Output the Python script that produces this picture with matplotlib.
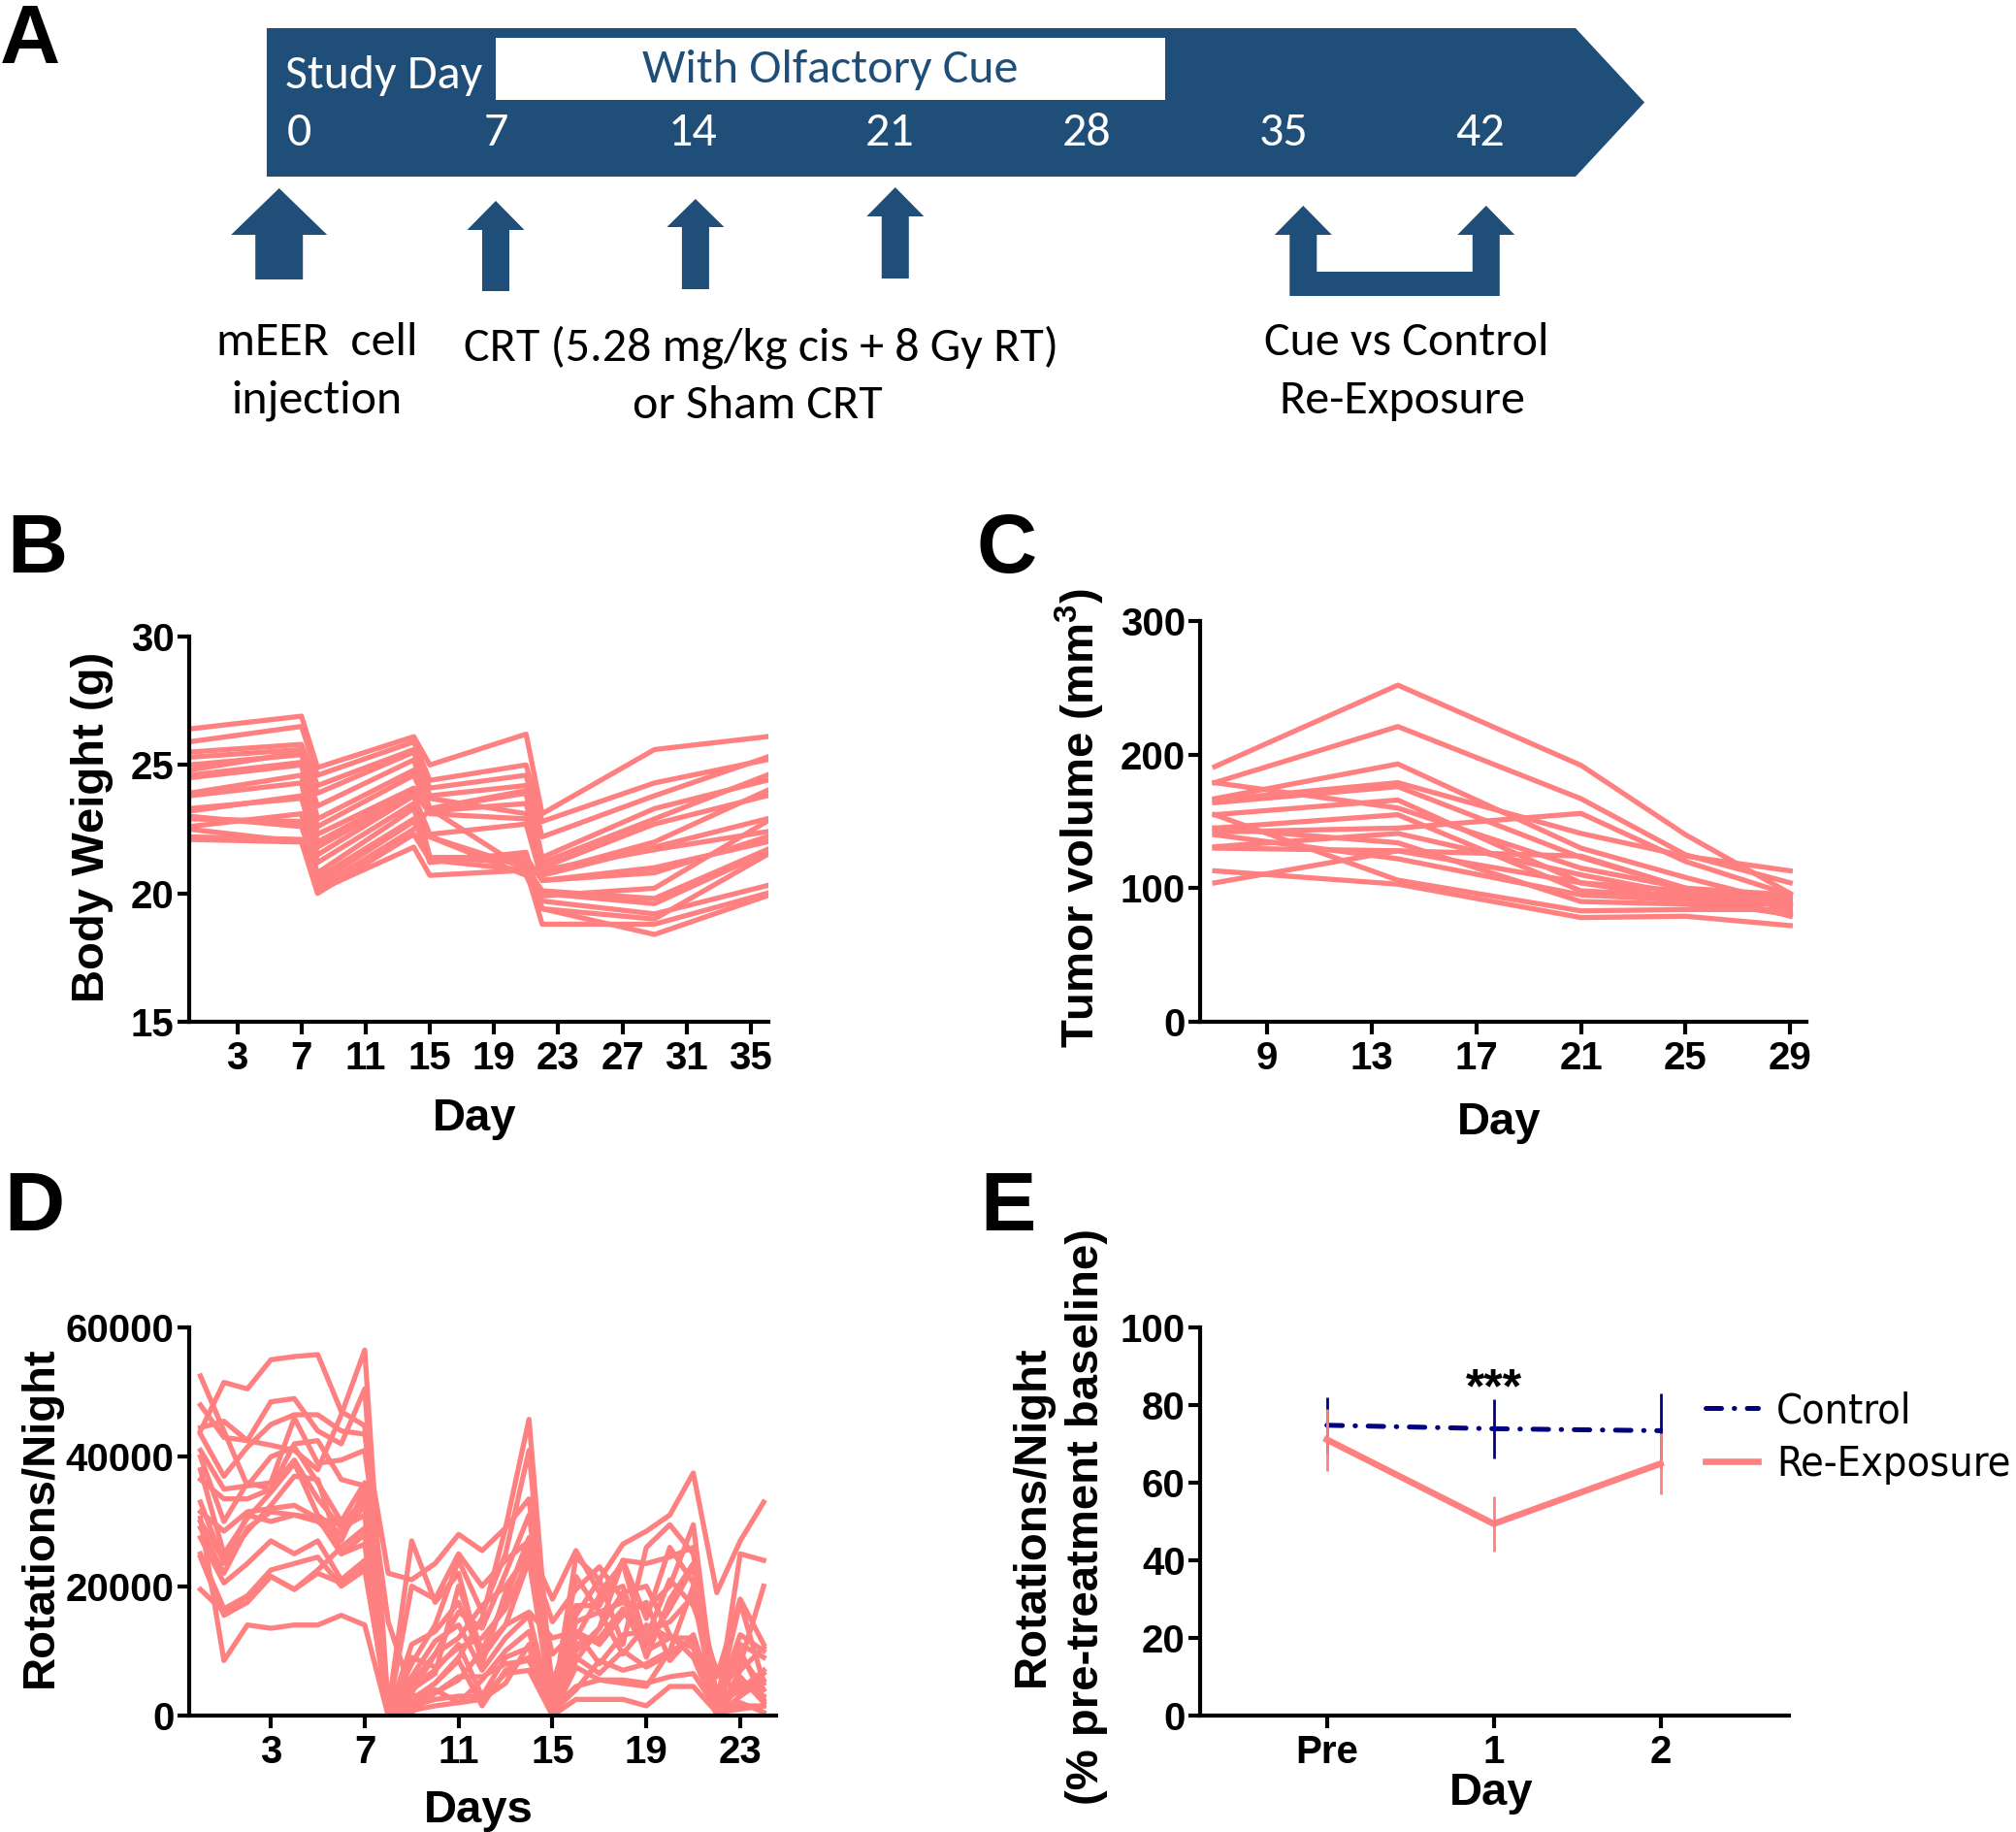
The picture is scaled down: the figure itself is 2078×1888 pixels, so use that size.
"""
Olfactory cue study figure: timeline (A), body weight (B), tumour volume (C),
wheel rotations (D) and re-exposure response (E).
"""

import matplotlib
matplotlib.use("Agg")
import matplotlib.pyplot as plt
from matplotlib import font_manager
from matplotlib.font_manager import FontProperties
from matplotlib.patches import Polygon, Rectangle

# ── Data ───────────────────────────────────────────────────────────────────────
# A: study timeline
study_days = [0, 7, 14, 21, 28, 35, 42]
cue_window = (7.0, 30.8)
injection_day = -0.7
crt_days = [7.0, 14.1, 21.2]
reexposure_days = [35.7, 42.2]

# B: body weight (g), one row per mouse
bw_days = [0, 7, 8, 14, 15, 21, 22, 29, 36]
body_weight = [
    [26.4, 26.9, 24.9, 26.1, 25.0, 26.2, 23.1, 25.6, 26.1],
    [25.9, 26.5, 24.6, 25.9, 24.4, 25.0, 22.8, 24.3, 25.2],
    [25.5, 25.8, 24.2, 25.6, 24.1, 24.6, 22.2, 23.8, 25.3],
    [25.3, 25.6, 23.9, 25.5, 23.8, 24.2, 21.4, 23.3, 24.4],
    [25.0, 25.4, 23.4, 25.2, 23.3, 24.0, 21.2, 22.9, 24.6],
    [24.8, 25.5, 22.9, 24.8, 23.3, 23.9, 20.8, 22.0, 24.0],
    [24.6, 25.1, 22.6, 24.6, 23.2, 23.5, 21.0, 22.7, 23.8],
    [24.5, 25.0, 22.3, 24.1, 23.7, 23.1, 20.7, 21.8, 22.9],
    [23.9, 24.6, 22.0, 24.0, 23.1, 22.9, 20.9, 21.7, 22.4],
    [23.8, 24.3, 21.5, 23.8, 22.3, 22.7, 20.5, 21.0, 22.0],
    [23.3, 23.7, 21.8, 23.9, 21.4, 21.4, 20.5, 20.8, 22.2],
    [23.2, 23.8, 21.2, 23.5, 22.2, 21.0, 20.1, 19.8, 21.7],
    [23.0, 22.6, 20.8, 23.3, 21.4, 21.2, 19.9, 20.2, 22.8],
    [22.9, 22.8, 20.6, 22.9, 21.2, 21.6, 19.4, 19.0, 21.5],
    [22.6, 23.1, 20.2, 22.5, 23.3, 20.9, 20.0, 19.6, 21.6],
    [22.5, 22.0, 20.0, 22.3, 21.3, 20.9, 19.7, 19.2, 20.3],
    [22.2, 22.1, 20.1, 21.8, 20.7, 20.9, 18.8, 18.8, 20.0],
    [22.1, 22.0, 20.4, 22.8, 22.2, 20.7, 19.4, 18.4, 19.9],
]

# C: tumour volume (mm3), one row per mouse
tv_days = [7, 14, 21, 25, 29]
tumor_volume = [
    [191, 252, 192, 140, 96],
    [179, 221, 167, 125, 104],
    [167, 193, 130, 108, 88],
    [166, 179, 141, 124, 113],
    [179, 160, 115, 100, 95],
    [164, 176, 123, 100, 86],
    [155, 166, 104, 98, 92],
    [145, 155, 98, 94, 90],
    [142, 145, 156, 120, 95],
    [131, 141, 110, 95, 86],
    [145, 134, 90, 88, 82],
    [130, 128, 104, 92, 80],
    [113, 103, 78, 79, 72],
    [104, 128, 124, 100, 79],
    [155, 106, 83, 84, 84],
    [140, 122, 95, 91, 88],
]

# D: wheel rotations per night, one row per mouse
rot_days = list(range(25))
rotations = [
    [44000, 51500, 50500, 55000, 55500, 55800, 47000, 44800, 400, 20000, 18000, 25000, 20000,
     24000, 27000, 1500, 24500, 21000, 26500, 28500, 31000, 37500, 19000, 27000, 33000],
    [52500, 44000, 35500, 40000, 41500, 36000, 30000, 36000, 0, 2000, 5000, 9000, 15000,
     29000, 45800, 2000, 10000, 13500, 24000, 23500, 24500, 26000, 1000, 25000, 24000],
    [48000, 43000, 42500, 48500, 49000, 44000, 42000, 50500, 500, 8000, 14000, 24000, 16000,
     25000, 41000, 1000, 14500, 16000, 17500, 16500, 20000, 29500, 500, 6000, 2000],
    [44500, 45500, 42500, 41800, 41000, 38000, 46500, 56500, 1000, 27000, 17500, 22000, 8000,
     19000, 26000, 18000, 25500, 19000, 23500, 11000, 16500, 23000, 2000, 12500, 10000],
    [43500, 37000, 41500, 45000, 46500, 46500, 44000, 43500, 22000, 21000, 23500, 28000, 25500,
     29000, 33500, 3000, 17000, 17000, 24000, 15000, 26000, 20500, 6000, 18000, 11000],
    [41000, 35000, 35500, 36000, 46000, 39000, 39500, 41000, 14500, 3500, 9500, 16000, 13500,
     22000, 31000, 5000, 15500, 21000, 11000, 26000, 29500, 25000, 3000, 8000, 20000],
    [40000, 30000, 36000, 35000, 42000, 42500, 36500, 35500, 0, 11000, 13000, 17500, 9000,
     14000, 16000, 12000, 13000, 8000, 12500, 13000, 14500, 18500, 500, 11000, 9000],
    [38000, 25000, 30500, 34500, 39000, 31000, 28000, 32500, 500, 6000, 11500, 14000, 7000,
     12000, 15500, 500, 11000, 12000, 16500, 10000, 12000, 12000, 1500, 4000, 7000],
    [36500, 33500, 33500, 35000, 39500, 33500, 29000, 31000, 0, 4500, 7000, 11000, 3000,
     9000, 10500, 0, 9000, 6500, 10000, 7500, 9500, 11500, 0, 5000, 3000],
    [33000, 23500, 31000, 30000, 31000, 30000, 27000, 35000, 0, 2500, 5000, 8500, 1500,
     7000, 9000, 0, 7500, 5500, 5000, 4500, 10000, 20000, 0, 3000, 5500],
    [31500, 28500, 31500, 32000, 32500, 30500, 29500, 33500, 1000, 3000, 3500, 6000, 6000,
     8000, 8500, 1000, 4500, 5500, 5500, 5000, 6000, 6500, 1000, 1500, 1500],
    [30000, 24000, 28500, 32500, 37000, 36500, 25000, 26500, 0, 1500, 2500, 3000, 3000,
     6500, 7000, 0, 2500, 2500, 2500, 1500, 4500, 4500, 500, 2000, 500],
    [27500, 20500, 23500, 27000, 25000, 27000, 21000, 24000, 0, 800, 1500, 2000, 2500,
     5000, 11000, 500, 4000, 8500, 7000, 8000, 10000, 11500, 4000, 9500, 4000],
    [25000, 16500, 18500, 22500, 23500, 24500, 20000, 22500, 1500, 5000, 9500, 12000, 17000,
     20000, 25000, 14500, 19500, 23000, 18000, 12000, 21000, 17000, 7000, 3000, 6500],
    [24500, 15500, 17500, 21500, 19500, 22500, 26000, 29000, 0, 9000, 7500, 10500, 12000,
     16500, 24500, 9500, 13000, 11000, 15500, 17500, 8500, 12500, 1500, 10000, 2500],
    [19500, 16000, 18500, 21500, 19500, 22000, 20500, 23000, 2000, 500, 3500, 5500, 10000,
     14000, 24000, 1000, 21500, 16000, 9500, 14000, 12000, 10500, 0, 7000, 10500],
    [30500, 8500, 14000, 13500, 14000, 14000, 15500, 14000, 0, 1500, 4000, 2000, 5500,
     10000, 13000, 0, 8500, 13500, 19000, 20000, 12500, 9000, 500, 1000, 1500],
    [29000, 22000, 29000, 31500, 31000, 30500, 25000, 28000, 500, 4000, 6500, 20000, 10000,
     18000, 27500, 3500, 12000, 18500, 20000, 9000, 18000, 23500, 2000, 17500, 5000],
]

# E: rotations relative to baseline (mean +/- SEM)
e_labels = ["Pre", "1", "2"]
control_mean = [74.8, 73.9, 73.4]
control_sem = [7.3, 7.7, 9.6]
reexp_mean = [71.1, 49.4, 64.9]
reexp_sem = [8.0, 7.2, 7.8]

# ── Style ──────────────────────────────────────────────────────────────────────
PINK = "#FF8080"
NAVY = "#000080"
BLUE = "#1F4E79"

names = {f.name for f in font_manager.fontManager.ttflist}
BOLD = "Liberation Sans"
CAL = "Carlito" if "Carlito" in names else "Lato"


def narrow_font(bold):
    """Find a narrow / condensed face; None if the system has none."""
    best = None
    for f in font_manager.fontManager.ttflist:
        nm = f.name.lower()
        is_narrow = "narrow" in nm or "condensed" in nm or str(f.stretch) in (
            "condensed", "semi-condensed", "extra-condensed", "75", "87")
        w = f.weight if isinstance(f.weight, int) else (700 if "bold" in str(f.weight) else 400)
        if not is_narrow or (w >= 600) != bold or "italic" in f.style or "oblique" in f.style:
            continue
        rank = 0 if "liberation" in nm else 1 if "dejavu" in nm else 2
        if best is None or rank < best[0]:
            best = (rank, f.fname)
    return best[1] if best else None


NARROW_REG = narrow_font(False)
# tick labels: true Arial-Narrow-like face if present, else the narrow-digit Liberation Sans Bold
TICK_NARROW = "Liberation Sans Narrow" in names


def tick_font():
    if TICK_NARROW:
        return FontProperties(family="Liberation Sans Narrow", weight="bold", size=32)
    return FontProperties(family=BOLD, weight="bold", size=29)


def legend_font():
    if NARROW_REG:
        return FontProperties(fname=NARROW_REG, size=31)
    return FontProperties(family=BOLD, size=27)


plt.rcParams["font.family"] = [BOLD, "DejaVu Sans"]
plt.rcParams["mathtext.fontset"] = "custom"
plt.rcParams["mathtext.rm"] = "Liberation Sans"
plt.rcParams["mathtext.bf"] = "Liberation Sans:bold"

W, H = 2078, 1888
fig = plt.figure(figsize=(W / 100, H / 100), dpi=100, facecolor="white")


def px_axes(left, top, right, bottom):
    return fig.add_axes([left / W, 1 - bottom / H, (right - left) / W, (bottom - top) / H])


def fig_text(x, y, s, **kw):
    fig.text(x / W, 1 - y / H, s, **kw)


def prism_style(ax):
    ax.spines[["top", "right"]].set_visible(False)
    ax.spines[["left", "bottom"]].set_linewidth(3)
    ax.tick_params(direction="out", length=9, width=3, pad=2)
    ax.tick_params(axis="x", pad=5)
    for lab in ax.get_xticklabels() + ax.get_yticklabels():
        lab.set_fontproperties(tick_font())


LABEL_KW = dict(fontsize=34, fontweight="bold", ha="center", va="center")
PANEL_KW = dict(fontsize=62, fontweight="bold", ha="left", va="baseline")
LW = 3.8

# ── A: timeline schematic ─────────────────────────────────────────────────────
DAY0_PX, PX_PER_DAY = 308, 29.0
ax_a = fig.add_axes([0, 1 - 470 / H, 1, 470 / H])
ax_a.set_xlim(-DAY0_PX / PX_PER_DAY, (W - DAY0_PX) / PX_PER_DAY)
ax_a.set_ylim(470, 0)
ax_a.axis("off")


def d(px):
    return px / PX_PER_DAY


banner = [(-1.14, 29), (45.38, 29), (47.83, 105.5), (45.38, 182), (-1.14, 182)]
ax_a.add_patch(Polygon(banner, closed=True, fc=BLUE, ec="none"))
ax_a.add_patch(Rectangle((cue_window[0], 39), cue_window[1] - cue_window[0], 64,
                         fc="white", ec="none"))
A_FS = 36
ax_a.text(sum(cue_window) / 2, 72, "With Olfactory Cue", color=BLUE, fontsize=A_FS,
          family=CAL, ha="center", va="center")
ax_a.text(-0.5, 78, "Study Day", color="white", fontsize=A_FS, family=CAL,
          ha="left", va="center")
for sd in study_days:
    ax_a.text(sd, 137, str(sd), color="white", fontsize=A_FS, family=CAL,
              ha="center", va="center")


def up_arrow(xc, tip, base, bottom, head_hw, shaft_hw):
    verts = [(xc, tip), (xc + head_hw, base), (xc + shaft_hw, base), (xc + shaft_hw, bottom),
             (xc - shaft_hw, bottom), (xc - shaft_hw, base), (xc - head_hw, base)]
    ax_a.add_patch(Polygon(verts, closed=True, fc=BLUE, ec="none"))


up_arrow(injection_day, 194, 242, 288, d(49.5), d(24.5))
for xc, tip, base, bottom in zip(crt_days, [207, 205, 193], [237, 234, 223], [300, 298, 287]):
    up_arrow(xc, tip, base, bottom, d(29.5), d(14))

L, R = reexposure_days
hw, sw = d(29.5), d(14)
bracket = [(L, 212), (L + hw, 242), (L + sw, 242), (L + sw, 280), (R - sw, 280), (R - sw, 242),
           (R - hw, 242), (R, 212), (R + hw, 242), (R + sw, 242), (R + sw, 305), (L - sw, 305),
           (L - sw, 242), (L - hw, 242)]
ax_a.add_patch(Polygon(bracket, closed=True, fc=BLUE, ec="none"))

A_TXT = dict(fontsize=A_FS, family=CAL, ha="center", va="center", color="black")
ax_a.text(d(327 - DAY0_PX), 353, "mEER  cell", **A_TXT)
ax_a.text(d(326 - DAY0_PX), 413, "injection", **A_TXT)
ax_a.text(d(785 - DAY0_PX), 358, "CRT (5.28 mg/kg cis + 8 Gy RT)", **A_TXT)
ax_a.text(d(781 - DAY0_PX), 418, "or Sham CRT", **A_TXT)
ax_a.text(d(1450 - DAY0_PX), 353, "Cue vs Control", **A_TXT)
ax_a.text(d(1445 - DAY0_PX), 413, "Re-Exposure", **A_TXT)

# ── B: body weight ────────────────────────────────────────────────────────────
ax_b = px_axes(195, 656, 792, 1053)
for row in body_weight:
    ax_b.plot(bw_days, row, color=PINK, lw=LW, solid_joinstyle="round")
ax_b.set_xlim(0, 36.1)
ax_b.set_ylim(15, 30)
ax_b.set_xticks([3, 7, 11, 15, 19, 23, 27, 31, 35])
ax_b.set_yticks([15, 20, 25, 30])
prism_style(ax_b)
fig_text(95, 852, "Body Weight (g)", rotation=90, **LABEL_KW)
fig_text(489, 1153, "Day", **LABEL_KW)

# ── C: tumour volume ──────────────────────────────────────────────────────────
ax_c = px_axes(1237, 640, 1862, 1053)
for row in tumor_volume:
    ax_c.plot(tv_days, row, color=PINK, lw=LW, solid_joinstyle="round")
ax_c.set_xlim(6.44, 29.62)
ax_c.set_ylim(0, 300)
ax_c.set_xticks([9, 13, 17, 21, 25, 29])
ax_c.set_yticks([0, 100, 200, 300])
prism_style(ax_c)
fig_text(1113, 843, r"Tumor volume (mm$^\mathbf{3}$)", rotation=90, **LABEL_KW)
fig_text(1545, 1157, "Day", **LABEL_KW)

# ── D: rotations per night ────────────────────────────────────────────────────
ax_d = px_axes(195, 1368, 800, 1768)
for row in rotations:
    ax_d.plot(rot_days, row, color=PINK, lw=LW, solid_joinstyle="round")
ax_d.set_xlim(-0.48, 24.53)
ax_d.set_ylim(0, 60000)
ax_d.set_xticks([3, 7, 11, 15, 19, 23])
ax_d.set_yticks([0, 20000, 40000, 60000])
prism_style(ax_d)
fig_text(42, 1563, "Rotations/Night", rotation=90, **LABEL_KW)
fig_text(493, 1866, "Days", **LABEL_KW)

# ── E: re-exposure ────────────────────────────────────────────────────────────
ax_e = px_axes(1237, 1368, 1844, 1768)
xe = range(len(e_labels))
ax_e.errorbar(xe, control_mean, yerr=control_sem, fmt="none", ecolor=NAVY,
              elinewidth=2, capsize=0)
ctrl_line, = ax_e.plot(xe, control_mean, color=NAVY, lw=3.6, dashes=(3.2, 2.6, 0.1, 2.6),
                       dash_capstyle="round", label="Control")
ax_e.errorbar(xe, reexp_mean, yerr=reexp_sem, fmt="none", ecolor=PINK,
              elinewidth=2, capsize=0)
reexp_line, = ax_e.plot(xe, reexp_mean, color=PINK, lw=4.8, label="Re-Exposure")
ax_e.text(1, 80.7, "***", fontsize=36, fontweight="bold", ha="center", va="baseline")
ax_e.set_xlim(-0.76, 2.77)
ax_e.set_ylim(0, 100)
ax_e.set_xticks(list(xe))
ax_e.set_xticklabels(e_labels)
ax_e.set_yticks([0, 20, 40, 60, 80, 100])
prism_style(ax_e)
ax_e.legend(handles=[ctrl_line, reexp_line], loc="center left",
            bbox_to_anchor=(1758 / W, 1 - 1482 / H), bbox_transform=fig.transFigure,
            frameon=False, borderpad=0, borderaxespad=0, handlelength=1.25,
            handletextpad=0.45, labelspacing=0.3, prop=legend_font())
fig_text(1064, 1562, "Rotations/Night", rotation=90, **LABEL_KW)
fig_text(1120, 1563, "(% pre-treatment baseline)", rotation=90, **LABEL_KW)
fig_text(1537, 1848, "Day", **LABEL_KW)

# ── Panel letters ─────────────────────────────────────────────────────────────
fig_text(0, 65, "A", **PANEL_KW)
fig_text(7, 590, "B", **PANEL_KW)
fig_text(1007, 590, "C", **PANEL_KW)
fig_text(4, 1268, "D", **PANEL_KW)
fig_text(1010, 1268, "E", **PANEL_KW)

fig.savefig("out.png", dpi=100, facecolor="white")
